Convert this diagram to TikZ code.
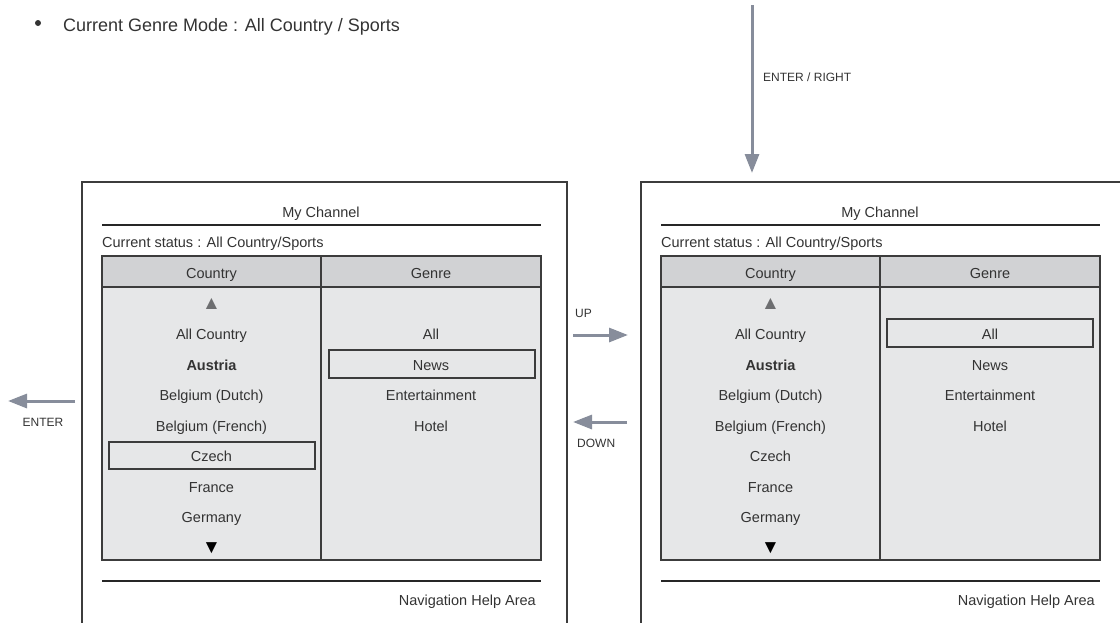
\documentclass[tikz,border=0pt]{standalone}
\usepackage{fontspec}
\setmainfont{Liberation Sans}
\usetikzlibrary{arrows.meta}
\definecolor{txt}{HTML}{333333}
\definecolor{hdr}{HTML}{D1D2D4}
\definecolor{bdy}{HTML}{E6E7E8}
\definecolor{arr}{HTML}{878D9B}
\definecolor{frm}{HTML}{3C3C3C}
\definecolor{tri}{HTML}{6D6E70}
\tikzset{
  lbl/.style={text=txt, inner sep=0pt, anchor=base, font=\fontsize{14.5}{17}\selectfont},
  small/.style={text=txt, inner sep=0pt, anchor=base, font=\fontsize{12}{14}\selectfont},
  trig/.style={inner sep=0pt, anchor=base, font=\fontsize{19}{21}\selectfont},
  frameline/.style={draw=frm, line width=1.3pt},
  rule/.style={draw=black!85, line width=1.6pt},
  cellline/.style={draw=frm, line width=1.2pt},
  hilite/.style={draw=frm, line width=1.5pt},
  navarrow/.style={draw=arr, line width=3pt, -{Triangle[length=19pt,width=14pt]}}
}
\newcommand\mypanel[2]{%
\begin{scope}[shift={(#2,0)}]
  \draw[frameline] (82,630) -- (82,182) -- (567,182) -- (567,630);
  \node[lbl] (#1-title) at (321,217) {My Channel};
  \draw[rule] (102,225) -- (541,225);
  \node[lbl, anchor=base west] (#1-status) at (102,247) {Current status : All Country/Sports};
  \filldraw[cellline, fill=hdr] (102,256) rectangle (541,287);
  \filldraw[cellline, fill=bdy] (102,287) rectangle (541,560);
  \draw[cellline] (321,256) -- (321,560);
  \node[lbl] (#1-hc) at (211.5,278) {Country};
  \node[lbl] (#1-hg) at (431,278) {Genre};
  \node[trig, text=tri] (#1-up) at (211.5,309) {▲};
  \node[lbl] (#1-c1) at (211.5,339.5) {All Country};
  \node[lbl, font=\fontsize{14.5}{17}\selectfont\bfseries] (#1-c2) at (211.5,370) {Austria};
  \node[lbl] (#1-c3) at (211.5,400.5) {Belgium (Dutch)};
  \node[lbl] (#1-c4) at (211.5,431) {Belgium (French)};
  \node[lbl] (#1-c5) at (211.5,461.5) {Czech};
  \node[lbl] (#1-c6) at (211.5,492) {France};
  \node[lbl] (#1-c7) at (211.5,522.5) {Germany};
  \node[trig, text=black] (#1-down) at (211.5,553) {▼};
  \node[lbl] (#1-g1) at (431,339.5) {All};
  \node[lbl] (#1-g2) at (431,370) {News};
  \node[lbl] (#1-g3) at (431,400.5) {Entertainment};
  \node[lbl] (#1-g4) at (431,431) {Hotel};
  \draw[rule] (102,581) -- (541,581);
  \node[lbl, anchor=base east] (#1-nav) at (536,605) {Navigation Help Area};
\end{scope}}
\begin{document}
\begin{tikzpicture}[x=1pt, y=-1pt]
  \useasboundingbox (0,0) rectangle (1120,622);
  % bullet line
  \fill[txt] (38,23) circle (3);
  \node[lbl, anchor=base west, font=\fontsize{18}{21}\selectfont] (mode) at (63,31) {Current Genre Mode : All Country / Sports};
  % panels
  \mypanel{L}{0}
  \mypanel{R}{559}
  % highlights
  \draw[hilite] (109,442) rectangle (315,469);
  \draw[hilite] (329,350) rectangle (535,378);
  \draw[hilite] (887,319) rectangle (1093,347);
  % arrows
  \coordinate (erS) at (752,5);
  \coordinate (erE) at (752,173);
  \draw[navarrow] (erS) -- (erE);
  \node[small, anchor=base west] (erL) at (763,81.5) {ENTER / RIGHT};
  \coordinate (upS) at (573,335);
  \coordinate (upE) at (628,335);
  \draw[navarrow] (upS) -- (upE);
  \node[small, anchor=base west] (upL) at (575,317.5) {UP};
  \coordinate (dnS) at (627,422);
  \coordinate (dnE) at (573,422);
  \draw[navarrow] (dnS) -- (dnE);
  \node[small, anchor=base west] (dnL) at (577,447.5) {DOWN};
  \coordinate (enS) at (75,401);
  \coordinate (enE) at (8,401);
  \draw[navarrow] (enS) -- (enE);
  \node[small] (enL) at (43,426) {ENTER};
\end{tikzpicture}
\end{document}
